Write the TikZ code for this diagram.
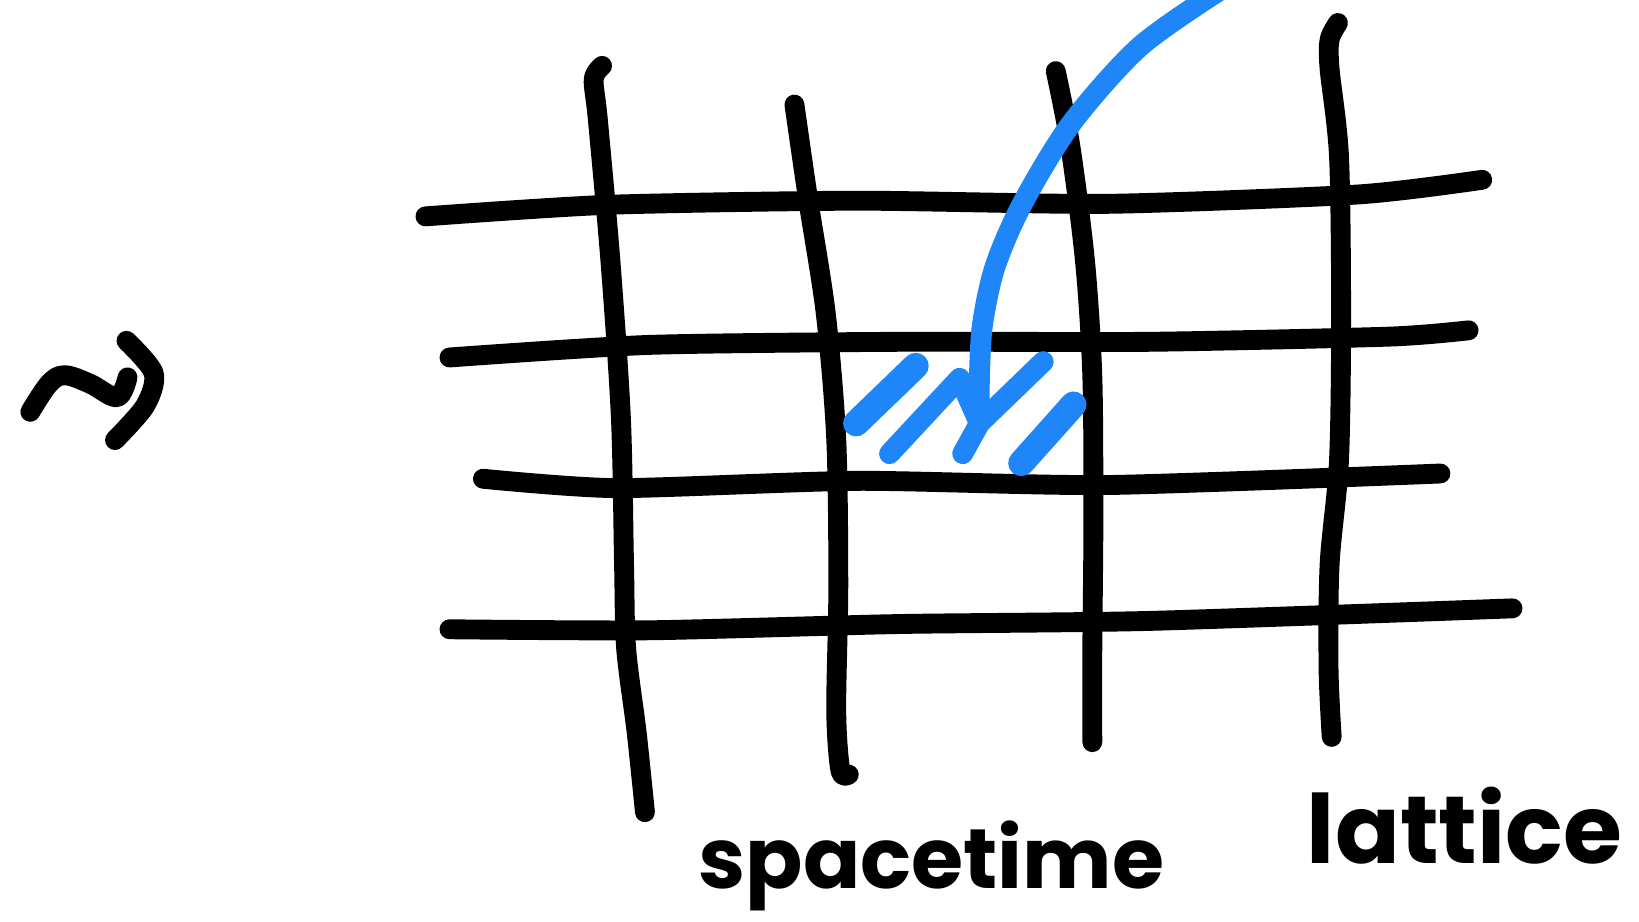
\documentclass[tikz,border=0pt]{standalone}
\usepackage{fontspec}
\newfontfamily\handfont{Poppins}
\definecolor{crayonblue}{RGB}{30,134,248}

\begin{document}
\begin{tikzpicture}[x=0.02cm, y=-0.02cm,
  pen/.style={line width=0.38cm, line cap=round, line join=round},
  crayon/.style={line width=0.4cm, line cap=round, line join=round, draw=crayonblue},
  hatch/.style={crayon, line width=0.5cm},
  word/.style={font=\handfont\bfseries\fontsize{46}{46}\selectfont, inner sep=0pt, anchor=base west}]
\useasboundingbox (0,0) rectangle (1568,882);

% leads-to sign
\draw[pen] plot[smooth, tension=0.6] coordinates {(29,394) (47,367) (62,359) (86,367) (112,380) (122,361)};
\draw[pen] plot[smooth, tension=0.5] coordinates {(121,326) (147,357) (139,388) (110,421)};

% lattice, horizontal
\draw[pen] plot[smooth, tension=0.4] coordinates {(407,207) (580,196) (820,192) (1060,195) (1300,186) (1418,172)};
\draw[pen] plot[smooth, tension=0.4] coordinates {(430,342) (620,330) (860,327) (1100,327) (1330,322) (1405,316)};
\draw[pen] plot[smooth, tension=0.4] coordinates {(462,458) (590,467) (820,460) (1060,464) (1378,453)};
\draw[pen] plot[smooth, tension=0.4] coordinates {(430,602) (620,603) (860,597) (1100,594) (1447,582)};

% lattice, vertical
\draw[pen] plot[smooth, tension=0.5] coordinates {(576,63) (568,76) (572,115) (584,250) (594,400) (597,540) (599,620) (609,700) (617,777)};
\draw[pen] plot[smooth, tension=0.5] coordinates {(760,100) (773,190) (790,300) (800,420) (802,560) (800,680) (804,737) (812,741)};
\draw[pen] plot[smooth, tension=0.5] coordinates {(1010,68) (1024,140) (1038,250) (1045,360) (1046,500) (1045,620) (1045,710)};
\draw[pen] plot[smooth, tension=0.5] coordinates {(1280,22) (1272,38) (1272,66) (1281,150) (1283,300) (1281,440) (1272,540) (1271,640) (1274,705)};

% blue arrow into one cell
\draw[crayon] plot[smooth, tension=0.5] coordinates {(1165,-8) (1090,45) (1025,118) (978,195) (952,255) (940,310) (937,360) (937,405)};
\draw[crayon] (851,434) -- (918,362) -- (937,405) -- (998,346);
\draw[crayon] (921,434) -- (937,405);
\draw[hatch] (819,405) -- (876,350);
\draw[hatch] (977,443) -- (1027,387);

% labels
\node[word] (spacetime) at (668,850) {spacetime};
\node[word, font=\handfont\bfseries\fontsize{52}{52}\selectfont] (lattice) at (1250,826) {lattice};
\end{tikzpicture}
\end{document}
